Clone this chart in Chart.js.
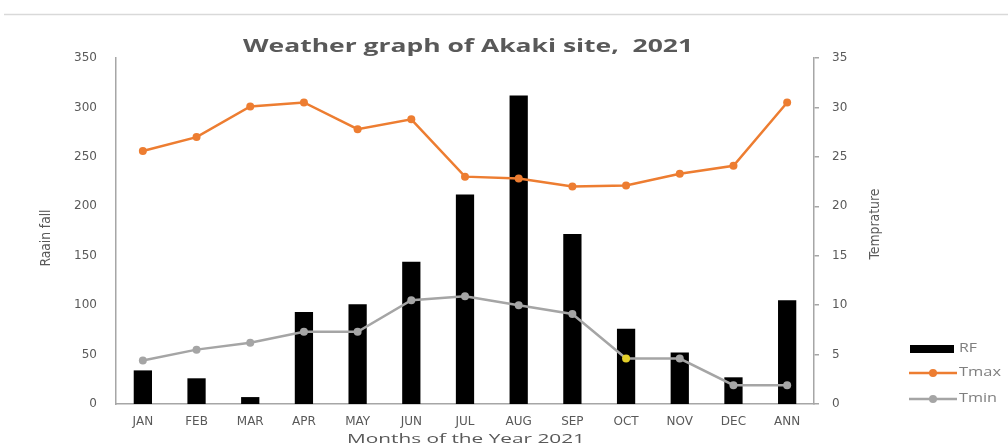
<!DOCTYPE html>
<html>
<head>
<meta charset="utf-8">
<script src="https://cdn.jsdelivr.net/npm/chart.js@4.4.1/dist/chart.umd.min.js"></script>
<style>
  html, body { margin: 0; padding: 0; background: #fff; }
</style>
</head>
<body>
<canvas id="weatherChart" width="1008" height="446"></canvas>
<script>
const months = ['JAN', 'FEB', 'MAR', 'APR', 'MAY', 'JUN', 'JUL', 'AUG', 'SEP', 'OCT', 'NOV', 'DEC', 'ANN'];
const rainfall = [34, 26, 7, 93, 101, 144, 212, 312, 172, 76, 52, 27, 105];
const tmax = [25.6, 27.0, 30.1, 30.5, 27.8, 28.8, 23.0, 22.8, 22.0, 22.1, 23.3, 24.1, 30.5];
const tmin = [4.4, 5.5, 6.2, 7.3, 7.3, 10.5, 10.9, 10.0, 9.1, 4.6, 4.6, 1.9, 1.9];

const textColor = '#595959';
const axisColor = '#a6a6a6';
const orange = '#ed7d31';
const grey = '#a5a5a5';

// text in the picture is stretched sideways, so fit it to a measured width
function drawFitted(ctx, text, x, y, font, width, angle, color, align) {
    ctx.save();
    ctx.font = font;
    ctx.fillStyle = color || textColor;
    ctx.textAlign = align || 'center';
    ctx.textBaseline = 'middle';
    const w = ctx.measureText(text).width;
    ctx.translate(x, y);
    ctx.rotate(angle);
    ctx.scale(width / w, 1);
    ctx.fillText(text, 0, 0);
    ctx.restore();
}

const decorations = {
    id: 'decorations',
    afterDraw(chart) {
        const ctx = chart.ctx;
        ctx.save();
        // thin rule across the top
        ctx.strokeStyle = '#d9d9d9';
        ctx.lineWidth = 1.5;
        ctx.beginPath();
        ctx.moveTo(4, 14.5);
        ctx.lineTo(1008, 14.5);
        ctx.stroke();

        drawFitted(ctx, 'Weather graph of Akaki site,  2021', 468, 47, 'bold 18px "Open Sans"', 450, 0);
        drawFitted(ctx, 'Months of the Year 2021', 466, 439, '13px "Open Sans"', 238, 0);
        drawFitted(ctx, 'Raain fall', 46, 238, '14px "Liberation Sans Narrow", "DejaVu Sans Condensed"', 57, -Math.PI / 2);
        drawFitted(ctx, 'Temprature', 875, 224, '14px "Liberation Sans Narrow", "DejaVu Sans Condensed"', 71, -Math.PI / 2);

        // legend
        const ds = chart.data.datasets;
        ctx.fillStyle = '#000';
        ctx.fillRect(910, 345, 44, 8);
        [[ds[1], 373], [ds[2], 399]].forEach(([d, y]) => {
            ctx.strokeStyle = d.borderColor;
            ctx.lineWidth = 2.5;
            ctx.beginPath();
            ctx.moveTo(909, y);
            ctx.lineTo(957, y);
            ctx.stroke();
            ctx.fillStyle = d.borderColor;
            ctx.beginPath();
            ctx.arc(933, y, 4, 0, Math.PI * 2);
            ctx.fill();
        });
        const legendFont = '12px "Open Sans"';
        drawFitted(ctx, ds[0].label, 959, 349, legendFont, 18, 0, '#7f7f7f', 'left');
        drawFitted(ctx, ds[1].label, 959, 373, legendFont, 42, 0, '#7f7f7f', 'left');
        drawFitted(ctx, ds[2].label, 959, 399, legendFont, 38, 0, '#7f7f7f', 'left');
        ctx.restore();
    }
};

const ctx = document.getElementById('weatherChart').getContext('2d');
new Chart(ctx, {
    type: 'bar',
    data: {
        labels: months,
        datasets: [{
            label: 'RF',
            data: rainfall,
            backgroundColor: '#000',
            borderWidth: 0,
            barPercentage: 0.34,
            categoryPercentage: 1,
            yAxisID: 'yRain',
            order: 2
        }, {
            type: 'line',
            label: 'Tmax',
            data: tmax,
            borderColor: orange,
            backgroundColor: orange,
            borderWidth: 2.5,
            pointRadius: 4,
            pointBorderWidth: 0,
            tension: 0,
            yAxisID: 'yTemp',
            order: 1
        }, {
            type: 'line',
            label: 'Tmin',
            data: tmin,
            borderColor: grey,
            backgroundColor: grey,
            pointBackgroundColor: c => c.dataIndex === 9 ? '#e3cf2a' : grey,
            borderWidth: 2.5,
            pointRadius: 4,
            pointBorderWidth: 0,
            tension: 0,
            yAxisID: 'yTemp',
            order: 0
        }]
    },
    options: {
        responsive: false,
        animation: false,
        layout: { padding: { top: 58, left: 0, right: 0, bottom: 0 } },
        plugins: {
            legend: { display: false },
            title: { display: false },
            tooltip: { enabled: false }
        },
        scales: {
            x: {
                offset: true,
                grid: { display: false, drawTicks: false },
                border: { display: true, color: axisColor, width: 1.5 },
                ticks: {
                    color: textColor,
                    font: { family: 'DejaVu Sans', size: 12 },
                    padding: 11,
                    maxRotation: 0,
                    autoSkip: false
                },
                afterFit: s => { s.height = 42; }
            },
            yRain: {
                position: 'left',
                min: 0,
                max: 350,
                grid: { display: false, drawTicks: false },
                border: { display: true, color: axisColor, width: 1.5 },
                ticks: {
                    stepSize: 50,
                    color: textColor,
                    font: { family: 'DejaVu Sans', size: 12 },
                    padding: 19
                },
                afterFit: s => { s.width = 116; }
            },
            yTemp: {
                position: 'right',
                min: 0,
                max: 35,
                grid: { drawOnChartArea: false, drawTicks: true, tickLength: 5, color: axisColor, lineWidth: 1.5 },
                border: { display: true, color: axisColor, width: 1.5 },
                ticks: {
                    stepSize: 5,
                    color: textColor,
                    font: { family: 'DejaVu Sans', size: 12 },
                    padding: 13
                },
                afterFit: s => { s.width = 194; }
            }
        }
    },
    plugins: [decorations]
});
</script>
</body>
</html>
